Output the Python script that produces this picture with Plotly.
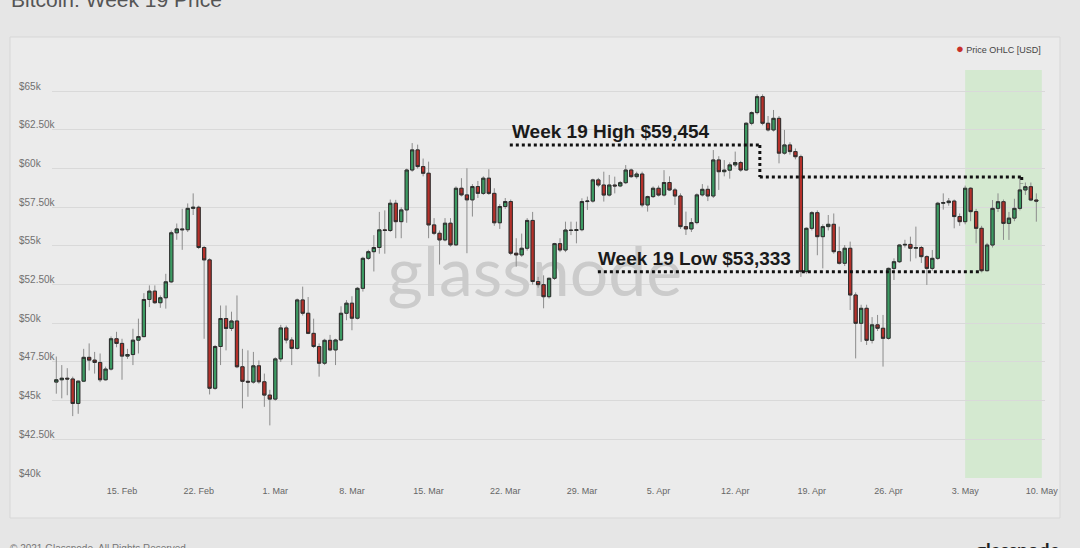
import pandas as pd
import plotly.graph_objects as go

# ---------------- data (prices in thousands of USD, 12h candles) ----------------
start_time = "2021-02-09 00:00"
n_candles = 180
dates = pd.date_range(start=start_time, periods=n_candles, freq="12h")

open_k = [
    46.20, 46.35, 46.45, 46.40, 44.82, 46.26, 47.80, 47.62, 47.47, 46.35,
    47.04, 49.00, 48.70, 47.88, 47.98, 48.91, 49.14, 51.54, 52.08, 51.33,
    51.65, 52.68, 55.85, 56.10, 56.05, 57.43, 57.50, 54.90, 54.10, 45.80,
    48.50, 50.31, 49.67, 50.15, 47.19, 46.25, 46.20, 47.25, 46.22, 45.36,
    45.10, 47.70, 49.70, 48.92, 48.38, 51.51, 50.65, 49.35, 48.50, 47.42,
    48.90, 48.28, 48.92, 50.65, 51.30, 50.33, 52.26, 54.20, 54.63, 54.90,
    56.04, 56.00, 57.76, 56.57, 57.33, 59.91, 61.21, 60.13, 59.70, 56.36,
    55.82, 55.39, 56.47, 55.07, 58.73, 58.30, 57.98, 58.84, 58.40, 59.38,
    58.40, 56.50, 57.55, 57.87, 54.53, 54.42, 54.85, 56.65, 52.70, 52.50,
    51.72, 52.91, 55.15, 54.74, 56.03, 56.00, 56.05, 57.87, 57.90, 59.27,
    58.94, 58.29, 58.94, 58.88, 59.09, 59.91, 59.48, 59.65, 57.65, 58.19,
    58.73, 58.29, 59.10, 58.62, 58.23, 56.25, 56.10, 56.51, 58.30, 58.66,
    58.23, 60.56, 59.80, 59.90, 60.24, 60.39, 59.91, 62.93, 63.62, 64.65,
    62.93, 62.50, 63.25, 61.00, 61.53, 61.10, 60.77, 53.34, 56.14, 57.15,
    55.60, 56.25, 56.40, 54.63, 53.88, 54.85, 51.83, 50.00, 50.97, 48.90,
    49.90, 49.68, 49.03, 53.55, 53.98, 55.06, 55.10, 54.85, 54.90, 54.31,
    53.55, 54.20, 57.76, 57.80, 57.90, 56.90, 56.57, 58.73, 57.22, 56.14,
    53.40, 55.06, 57.43, 57.86, 56.46, 56.80, 57.43, 58.62, 58.83, 57.97,
]
high_k = [
    47.85, 47.30, 47.10, 46.55, 46.30, 48.35, 48.70, 48.15, 48.05, 47.20,
    49.15, 49.45, 49.00, 48.35, 49.65, 50.30, 51.95, 52.45, 52.45, 51.80,
    53.20, 56.00, 56.45, 57.40, 57.75, 58.40, 57.60, 55.00, 54.20, 48.60,
    51.15, 51.15, 50.75, 51.80, 48.35, 48.25, 48.15, 47.60, 46.75, 45.70,
    47.80, 49.90, 49.85, 49.10, 51.60, 52.37, 51.70, 50.30, 48.70, 49.00,
    49.25, 49.00, 51.10, 51.50, 51.75, 52.35, 54.30, 54.75, 55.70, 57.20,
    57.30, 58.00, 57.98, 57.50, 60.00, 61.65, 61.55, 60.65, 60.45, 56.80,
    56.00, 56.80, 56.80, 58.85, 59.38, 60.02, 59.00, 59.20, 59.50, 59.96,
    58.73, 57.70, 58.10, 58.00, 55.50, 55.80, 56.80, 57.20, 53.00, 53.10,
    52.95, 55.20, 55.50, 56.57, 56.57, 56.57, 58.08, 58.19, 59.35, 59.40,
    59.80, 59.59, 59.48, 59.20, 60.23, 60.00, 59.80, 59.80, 58.25, 58.85,
    58.90, 59.90, 59.50, 58.75, 58.40, 57.22, 56.80, 58.40, 59.00, 58.90,
    61.20, 60.80, 60.55, 60.40, 61.10, 60.50, 63.00, 63.70, 64.80, 64.80,
    63.40, 63.79, 63.40, 62.50, 61.70, 61.30, 60.90, 56.20, 57.25, 57.30,
    56.40, 57.00, 57.10, 56.25, 55.06, 55.28, 52.00, 51.20, 51.20, 50.40,
    50.54, 50.54, 53.60, 54.20, 55.10, 55.40, 55.60, 56.25, 55.00, 54.40,
    54.74, 57.85, 58.40, 58.10, 58.00, 57.10, 58.90, 58.80, 57.40, 56.30,
    55.20, 57.97, 58.40, 58.00, 57.20, 58.05, 59.454, 59.10, 59.10, 58.40,
]
low_k = [
    45.45, 45.15, 45.35, 44.00, 44.15, 46.20, 46.95, 46.75, 46.20, 46.30,
    46.95, 48.45, 46.35, 47.70, 47.30, 48.05, 49.10, 51.05, 51.25, 51.00,
    50.95, 52.60, 55.40, 54.75, 55.90, 57.00, 54.80, 49.00, 45.40, 45.70,
    47.30, 48.25, 49.50, 47.10, 44.50, 45.25, 46.10, 46.10, 44.60, 43.40,
    45.00, 47.50, 48.70, 47.30, 48.30, 50.50, 49.30, 48.40, 46.55, 47.30,
    48.20, 47.30, 48.85, 50.20, 49.55, 50.25, 52.05, 54.10, 53.35, 54.50,
    54.50, 55.90, 55.50, 55.50, 56.50, 59.80, 60.00, 59.50, 55.50, 55.70,
    53.80, 55.30, 54.96, 55.00, 58.20, 54.53, 56.90, 58.10, 58.30, 58.30,
    56.30, 56.10, 57.40, 54.40, 53.66, 54.30, 54.70, 52.50, 52.30, 50.97,
    51.60, 52.80, 54.60, 54.60, 55.70, 55.17, 55.95, 57.33, 57.80, 58.80,
    57.87, 58.20, 58.40, 58.80, 59.00, 59.40, 59.35, 57.50, 57.22, 58.10,
    58.20, 58.20, 58.55, 57.65, 56.10, 55.71, 55.90, 56.40, 58.20, 57.90,
    58.10, 58.62, 59.50, 59.35, 60.10, 59.80, 59.85, 62.80, 63.50, 62.80,
    62.40, 62.40, 60.34, 60.90, 60.90, 60.60, 53.00, 53.20, 56.00, 54.40,
    53.55, 56.00, 54.50, 53.80, 53.70, 50.86, 47.73, 48.80, 48.60, 48.70,
    49.50, 47.20, 48.95, 52.80, 53.90, 54.90, 54.00, 54.20, 53.90, 52.48,
    53.40, 54.10, 57.35, 57.60, 56.14, 56.30, 56.40, 56.60, 55.17, 53.333,
    53.35, 54.90, 57.20, 55.39, 55.39, 56.60, 57.30, 58.30, 57.90, 56.57,
]
close_k = [
    46.35, 46.45, 46.40, 44.82, 46.26, 47.80, 47.62, 47.47, 46.35, 47.04,
    49.00, 48.70, 47.88, 47.98, 48.91, 49.14, 51.54, 52.08, 51.33, 51.65,
    52.68, 55.85, 56.10, 56.05, 57.43, 57.50, 54.90, 54.10, 45.80, 48.50,
    50.31, 49.67, 50.15, 47.19, 46.25, 46.20, 47.25, 46.22, 45.36, 45.10,
    47.70, 49.70, 48.92, 48.38, 51.51, 50.65, 49.35, 48.50, 47.42, 48.90,
    48.28, 48.92, 50.65, 51.30, 50.33, 52.26, 54.20, 54.63, 54.90, 56.04,
    56.00, 57.76, 56.57, 57.33, 59.91, 61.21, 60.13, 59.70, 56.36, 55.82,
    55.39, 56.47, 55.07, 58.73, 58.30, 57.98, 58.84, 58.40, 59.38, 58.40,
    56.50, 57.55, 57.87, 54.53, 54.42, 54.85, 56.65, 52.70, 52.50, 51.72,
    52.91, 55.15, 54.74, 56.03, 56.00, 56.05, 57.87, 57.90, 59.27, 58.94,
    58.29, 58.94, 58.88, 59.09, 59.91, 59.48, 59.65, 57.65, 58.19, 58.73,
    58.29, 59.10, 58.62, 58.23, 56.25, 56.10, 56.51, 58.30, 58.66, 58.23,
    60.56, 59.80, 59.90, 60.24, 60.39, 59.91, 62.93, 63.62, 64.65, 62.93,
    62.50, 63.25, 61.00, 61.53, 61.10, 60.77, 53.34, 56.14, 57.15, 55.60,
    56.25, 56.40, 54.63, 53.88, 54.85, 51.83, 50.00, 50.97, 48.90, 49.90,
    49.68, 49.03, 53.55, 53.98, 55.06, 55.10, 54.85, 54.90, 54.31, 53.55,
    54.20, 57.76, 57.80, 57.90, 56.90, 56.57, 58.73, 57.22, 56.14, 53.40,
    55.06, 57.43, 57.86, 56.46, 56.80, 57.43, 58.62, 58.83, 57.97, 57.90,
]

y_tick_vals = [40, 42.5, 45, 47.5, 50, 52.5, 55, 57.5, 60, 62.5, 65]
y_tick_text = ["$40k", "$42.50k", "$45k", "$47.50k", "$50k", "$52.50k",
               "$55k", "$57.50k", "$60k", "$62.50k", "$65k"]
x_tick_vals = ["2021-02-15", "2021-02-22", "2021-03-01", "2021-03-08", "2021-03-15",
               "2021-03-22", "2021-03-29", "2021-04-05", "2021-04-12", "2021-04-19",
               "2021-04-26", "2021-05-03", "2021-05-10"]
x_tick_text = ["15. Feb", "22. Feb", "1. Mar", "8. Mar", "15. Mar", "22. Mar", "29. Mar",
               "5. Apr", "12. Apr", "19. Apr", "26. Apr", "3. May", "10. May"]

week19_high = 59.454
week19_low = 53.333
week19_start = "2021-05-03"
week19_end = "2021-05-10"

# ---------------- styles ----------------
GREEN = "#3c9a62"
RED = "#b5302a"
WICK = "#8c8c8c"
OUTLINE = "#2e2e2e"
BG = "#e6e6e6"
PANEL = "#ebebeb"

body_hi = [max(o, c) for o, c in zip(open_k, close_k)]
body_lo = [min(o, c) for o, c in zip(open_k, close_k)]

fig = go.Figure()
# wicks
fig.add_trace(go.Candlestick(
    x=dates, open=open_k, high=high_k, low=low_k, close=close_k,
    increasing=dict(fillcolor=GREEN, line=dict(color=WICK, width=1)),
    decreasing=dict(fillcolor=RED, line=dict(color=WICK, width=1)),
    whiskerwidth=0, showlegend=False, hoverinfo="skip",
))
# bodies with darker outline
fig.add_trace(go.Candlestick(
    x=dates, open=open_k, high=body_hi, low=body_lo, close=close_k,
    increasing=dict(fillcolor=GREEN, line=dict(color=OUTLINE, width=1)),
    decreasing=dict(fillcolor=RED, line=dict(color=OUTLINE, width=1)),
    whiskerwidth=0, showlegend=False, hoverinfo="skip",
))

W, H = 1080, 548
ML, MR, MT, MB = 52, 35, 70, 70
PW, PH = W - ML - MR, H - MT - MB


def px_x(px):
    return (px - ML) / PW


def px_y(py):
    return (H - MB - py) / PH


shapes = [
    # panel
    dict(type="rect", xref="paper", yref="paper", x0=px_x(10), x1=px_x(1060),
         y0=px_y(518), y1=px_y(37), fillcolor=PANEL,
         line=dict(color="#d7d7d7", width=1), layer="below"),
    # week 19 band
    dict(type="rect", xref="x", yref="paper", x0=week19_start, x1=week19_end,
         y0=0, y1=1, fillcolor="#d4e9d0", line=dict(width=0), layer="between"),
    # watermark
    dict(type="rect", xref="x", yref="y", x0="2021-03-20 00:00", x1="2021-03-29 10:00",
         y0=53.0, y1=54.14, fillcolor="rgba(0,0,0,0)", line=dict(width=0), layer="between",
         label=dict(text="glassnode", font=dict(family="Lato", size=68, color="#cbcbcb"),
                    textposition="middle center")),
]

DOT = dict(color="#111111", width=3, dash="dot")
shapes += [
    dict(type="line", xref="x", yref="y", x0="2021-03-22 10:00", x1="2021-04-14 06:00",
         y0=61.53, y1=61.53, line=DOT),
    dict(type="line", xref="x", yref="y", x0="2021-04-14 06:00", x1="2021-04-14 06:00",
         y0=61.53, y1=week19_high, line=DOT),
    dict(type="line", xref="x", yref="y", x0="2021-04-14 06:00", x1="2021-05-08 04:00",
         y0=week19_high, y1=week19_high, line=DOT),
    dict(type="line", xref="x", yref="y", x0="2021-05-08 04:00", x1="2021-05-08 04:00",
         y0=week19_high, y1=59.05, line=DOT),
    dict(type="line", xref="x", yref="y", x0="2021-03-30 11:00", x1="2021-05-04 13:00",
         y0=week19_low, y1=week19_low, line=DOT),
]

annotations = []
for v, t in zip(y_tick_vals, y_tick_text):
    annotations.append(dict(x=px_x(17), xref="paper", y=v, yref="y", yshift=5,
                            text=t, showarrow=False, xanchor="left", yanchor="middle",
                            font=dict(family="Liberation Sans", size=10, color="#707070")))

annotations += [
    dict(x="2021-03-22 10:00", y=62.37, xref="x", yref="y", text="Week 19 High $59,454",
         showarrow=False, xanchor="left", yanchor="middle",
         font=dict(family="Liberation Sans", size=19, color="#1a1a1a", weight="bold")),
    dict(x="2021-03-30 07:00", y=54.22, xref="x", yref="y", text="Week 19 Low $53,333",
         showarrow=False, xanchor="left", yanchor="middle",
         font=dict(family="Liberation Sans", size=19, color="#1a1a1a", weight="bold")),
    dict(x=px_x(1043), y=px_y(49), xref="paper", yref="paper",
         text="<span style='color:#c8302a;font-size:13px'>●</span> Price OHLC [USD]",
         showarrow=False, xanchor="right", yanchor="middle",
         font=dict(family="Liberation Sans", size=9, color="#444444")),
    dict(x=px_x(9), y=px_y(13), xref="paper", yref="paper", text="Bitcoin: Week 19 Price",
         showarrow=False, xanchor="left", yanchor="bottom",
         font=dict(family="Liberation Sans", size=21, color="#555555")),
    dict(x=px_x(8), y=px_y(541), xref="paper", yref="paper",
         text="© 2021 Glassnode. All Rights Reserved.",
         showarrow=False, xanchor="left", yanchor="top",
         font=dict(family="Liberation Sans", size=10, color="#777777")),
    dict(x=px_x(1062), y=px_y(536), xref="paper", yref="paper", text="glassnode",
         showarrow=False, xanchor="right", yanchor="top",
         font=dict(family="Lato", size=19, color="#222222", weight="bold")),
]

fig.update_layout(
    width=W, height=H,
    margin=dict(l=ML, r=MR, t=MT, b=MB),
    paper_bgcolor=BG, plot_bgcolor="rgba(0,0,0,0)",
    showlegend=False, boxgap=0.15,
    shapes=shapes, annotations=annotations,
    xaxis=dict(type="date", range=["2021-02-08 14:34", "2021-05-10 07:00"],
               rangeslider=dict(visible=False), showgrid=False, zeroline=False,
               tickmode="array", tickvals=x_tick_vals, ticktext=x_tick_text,
               ticks="", ticklabelstandoff=6,
               tickfont=dict(family="Liberation Sans", size=9, color="#666666"),
               showline=False),
    yaxis=dict(range=[40, 66.374], tickmode="array", tickvals=y_tick_vals,
               showticklabels=False, showgrid=True, gridcolor="#d9d9d9", gridwidth=1,
               zeroline=False, showline=False, ticks=""),
)

fig.write_html(
    "out.html",
    config={"displayModeBar": False},
    post_script="document.body.style.margin='0';document.body.style.background='#e6e6e6';",
)
